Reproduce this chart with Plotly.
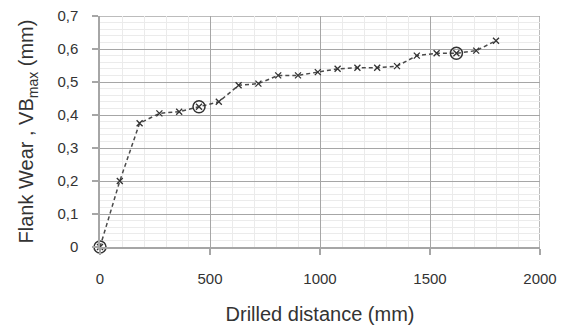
import plotly.graph_objects as go

distance = [0, 90, 180, 270, 360, 450, 540, 630, 720, 810, 900, 990, 1080,
            1170, 1260, 1350, 1440, 1530, 1620, 1710, 1800]
wear = [0, 0.2, 0.375, 0.405, 0.41, 0.425, 0.44, 0.49, 0.495, 0.52, 0.52,
        0.53, 0.54, 0.543, 0.543, 0.548, 0.58, 0.587, 0.587, 0.595, 0.625]
circled_idx = [0, 5, 18]

x_ticks = [0, 500, 1000, 1500, 2000]
x_ticktext = ["0", "500", "1000", "1500", "2000"]
y_ticks = [0, 0.1, 0.2, 0.3, 0.4, 0.5, 0.6, 0.7]
y_ticktext = ["0", "0,1", "0,2", "0,3", "0,4", "0,5", "0,6", "0,7"]

FONT = "Liberation Sans, Arial, sans-serif"
TXT = "#333333"
MAJOR = "#a6a6a6"
MINOR = "#ebebeb"

fig = go.Figure()
fig.add_trace(go.Scatter(
    x=distance, y=wear, mode="lines+markers",
    line=dict(color="#4a4a4a", width=1.5, dash="4px,3px"),
    marker=dict(symbol="x-thin", size=6, line=dict(color="#333333", width=1.3)),
    showlegend=False, cliponaxis=False))
fig.add_trace(go.Scatter(
    x=[distance[i] for i in circled_idx], y=[wear[i] for i in circled_idx],
    mode="markers",
    marker=dict(symbol="circle-open", size=12, color="#333333", line=dict(width=1.5)),
    showlegend=False, cliponaxis=False))

axis_common = dict(
    showline=True, linecolor=MAJOR, linewidth=1.5,
    gridcolor=MAJOR, gridwidth=1,
    ticks="outside", ticklen=6, tickcolor=MAJOR, tickwidth=1.5,
    tickfont=dict(family=FONT, size=15, color=TXT),
    zeroline=False, automargin=False,
)

fig.update_layout(
    width=566, height=326,
    margin=dict(l=100, r=26, t=16, b=79),
    paper_bgcolor="white", plot_bgcolor="white",
    font=dict(family=FONT, color=TXT),
    xaxis=dict(
        range=[0, 2000], tickvals=x_ticks, ticktext=x_ticktext,
        minor=dict(dtick=100, showgrid=True, gridcolor=MINOR, gridwidth=1, ticks=""),
        title=dict(text="Drilled distance (mm)", font=dict(family=FONT, size=20, color=TXT), standoff=21),
        ticklabelstandoff=11,
        **axis_common),
    yaxis=dict(
        range=[0, 0.7], tickvals=y_ticks, ticktext=y_ticktext,
        minor=dict(dtick=0.02, showgrid=True, gridcolor=MINOR, gridwidth=1, ticks=""),
        title=dict(text="Flank Wear , VB<sub>max</sub> (mm)", font=dict(family=FONT, size=20, color=TXT), standoff=18),
        ticklabelstandoff=11,
        **axis_common),
)
fig.add_shape(type="line", xref="x", yref="y", x0=2000, x1=2000, y0=0, y1=0.7,
              line=dict(color=MAJOR, width=1.5), layer="below")
fig.add_shape(type="line", xref="x", yref="y", x0=0, x1=2000, y0=0.7, y1=0.7,
              line=dict(color=MAJOR, width=1.5), layer="below")

fig.write_html("out.html", config={"displayModeBar": False},
               post_script="document.body.style.margin='0';document.body.style.overflow='hidden';")
